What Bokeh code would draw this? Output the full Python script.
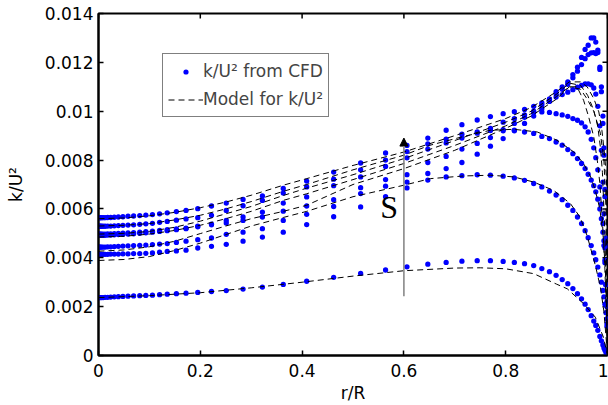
from bokeh.plotting import figure
from bokeh.models import (Range1d, FixedTicker, CustomJSTickFormatter,
                          Legend, LegendItem, Arrow, NormalHead, Label)
from bokeh.embed import file_html
from bokeh.resources import INLINE
import math

# ---------------- data ----------------
R = [0, 0.001, 0.002, 0.004, 0.006, 0.009, 0.013, 0.018, 0.024, 0.031,
     0.039, 0.048, 0.058, 0.069, 0.081, 0.093, 0.106, 0.120, 0.135, 0.153,
     0.172, 0.195, 0.222, 0.251, 0.284, 0.322, 0.363, 0.409, 0.462, 0.515,
     0.564, 0.606, 0.647, 0.683, 0.714, 0.744, 0.770, 0.795, 0.817, 0.837,
     0.855, 0.871, 0.886, 0.899, 0.911, 0.922, 0.932, 0.941, 0.949, 0.956,
     0.962, 0.968, 0.973, 0.977, 0.981, 0.985, 0.988, 0.991, 0.993, 0.995,
     0.997, 0.999, 1.0]

k_s1 = [.00237, .00237, .00237, .00237, .00237, .00237, .00238, .00238, .00239, .00240,
        .00241, .00242, .00243, .00244, .00245, .00246, .00247, .00249, .00251, .00253,
        .00255, .00258, .00262, .00266, .00272, .00280, .00291, .00304, .00320, .00336,
        .00350, .00363, .00374, .00381, .00386, .00388, .00388, .00385, .00381, .00376,
        .00368, .00356, .00343, .00328, .00311, .00294, .00274, .00253, .00232, .00210,
        .00188, .00163, .00141, .00123, .00103, .00078, .00060, .00043, .00031, .00021,
        .00012, .00004, 0]
k_s2 = [.00414, .00414, .00414, .00414, .00414, .00414, .00414, .00414, .00415, .00415,
        .00415, .00416, .00416, .00417, .00417, .00418, .00420, .00423, .00426, .00428,
        .00431, .00440, .00447, .00455, .00468, .00485, .00505, .00536, .00568, .00608,
        .00650, .00686, .00718, .00731, .00736, .00740, .00738, .00734, .00727, .00717,
        .00704, .00690, .00673, .00657, .00638, .00615, .00594, .00567, .00540, .00511,
        .00482, .00450, .00420, .00392, .00362, .00330, .00300, .00266, .00240, .00210,
        .00175, .00120, 0]
k_s3 = [.00529, .00529, .00529, .00529, .00529, .00529, .00529, .00530, .00530, .00531,
        .00532, .00533, .00534, .00535, .00537, .00539, .00541, .00545, .00549, .00554,
        .00559, .00564, .00574, .00594, .00613, .00635, .00665, .00690, .00722, .00760,
        .00800, .00835, .00866, .00886, .00906, .00915, .00921, .00925, .00922, .00915,
        .00909, .00897, .00888, .00874, .00861, .00843, .00826, .00806, .00786, .00765,
        .00742, .00718, .00695, .00670, .00640, .00600, .00560, .00505, .00450, .00380,
        .00290, .00150, 0]
k_s4 = [.00497, .00497, .00497, .00497, .00497, .00497, .00497, .00498, .00498, .00499,
        .00500, .00501, .00502, .00503, .00505, .00507, .00509, .00512, .00515, .00518,
        .00521, .00530, .00538, .00553, .00567, .00587, .00624, .00649, .00695, .00731,
        .00774, .00809, .00845, .00870, .00890, .00910, .00930, .00955, .00970, .00985,
        .00995, .00997, .00995, .00990, .00985, .00979, .00970, .00963, .00952, .00936,
        .00915, .00885, .00850, .00810, .00760, .00690, .00620, .00540, .00470, .00390,
        .00290, .00150, 0]
k_s5 = [.00564, .00564, .00564, .00564, .00564, .00564, .00564, .00565, .00565, .00566,
        .00567, .00568, .00570, .00571, .00573, .00575, .00577, .00580, .00584, .00589,
        .00594, .00601, .00612, .00624, .00639, .00653, .00684, .00714, .00751, .00788,
        .00829, .00860, .00890, .00922, .00945, .00964, .00978, .00990, .00998, .01007,
        .01020, .01034, .01046, .01058, .01068, .01078, .01088, .01098, .01106, .01112,
        .01112, .01108, .01095, .01070, .01020, .00940, .00840, .00710, .00580, .00440,
        .00290, .00130, 0]
k_s6 = [.00444, .00444, .00444, .00444, .00444, .00444, .00444, .00445, .00445, .00446,
        .00447, .00448, .00449, .00450, .00451, .00452, .00454, .00456, .00458, .00463,
        .00468, .00474, .00481, .00496, .00505, .00519, .00553, .00578, .00610, .00663,
        .00693, .00710, .00745, .00765, .00790, .00824, .00857, .00888, .00920, .00950,
        .00980, .01010, .01040, .01070, .01090, .01110, .01137, .01164, .01191, .01215,
        .01232, .01239, .01240, .01236, .01240, .01180, .01100, .00980, .00850, .00680,
        .00480, .00220, 0]
k_s7 = [.00492, .00492, .00492, .00492, .00492, .00492, .00492, .00493, .00493, .00494,
        .00495, .00496, .00497, .00498, .00500, .00502, .00505, .00508, .00511, .00515,
        .00519, .00527, .00535, .00542, .00553, .00567, .00591, .00612, .00638, .00687,
        .00720, .00740, .00790, .00815, .00845, .00868, .00892, .00920, .00950, .00975,
        .01000, .01025, .01050, .01080, .01100, .01120, .01150, .01180, .01220, .01253,
        .01270, .01300, .01300, .01283, .01250, .01171, .01080, .00950, .00820, .00650,
        .00450, .00200, 0]

# model curves
m1_r = [0, .1, .2, .3, .4, .5, .6, .7, .75, .8, .855, .9, .921, .953, .976, .992, 1.0]
m1_k = [.00237, .00245, .00257, .00277, .00300, .00325, .00347, .00358, .00359, .00355,
        .00335, .00292, .00273, .00212, .00157, .00075, 0]
m2_r = [0, .05, .1, .15, .2, .25, .3, .363, .409, .5, .6, .652, .718, .77, .816, .855,
        .894, .927, .946, .96, .976, .986, .993, 1.0]
m2_k = [.00389, .00393, .00405, .00430, .00460, .00495, .00530, .00565, .00590, .00650,
        .00697, .00724, .00735, .00738, .00731, .00710, .00676, .00622, .00567, .00490,
        .00370, .00280, .00180, 0]
m3_r = [0, .05, .1, .15, .2, .25, .3, .363, .409, .5, .6, .65, .718, .77, .816, .862,
        .901, .934, .953, .967, .976, .985, .992, .997, 1.0]
m3_k = [.00530, .00533, .00540, .00555, .00574, .00600, .00630, .00672, .00700, .00760,
        .00820, .00860, .00897, .00922, .00926, .00915, .00881, .00833, .00786, .00731,
        .00676, .00600, .00480, .00300, 0]
m4_r = [0, .05, .1, .15, .2, .25, .3, .363, .409, .5, .6, .7, .8, .85, .9, .925, .94,
        .953, .963, .973, .98, .985, .99, .995, 1.0]
m4_k = [.00485, .00488, .00497, .00512, .00533, .00560, .00590, .00635, .00662, .00720,
        .00786, .00860, .00940, .00990, .01060, .01100, .01100, .01045, .00977, .00895,
        .00799, .00704, .00550, .00350, 0]
m5_r = [0, .05, .1, .15, .2, .25, .3, .363, .409, .5, .6, .7, .8, .85, .9, .925, .947,
        .96, .973, .983, .989, .994, .998, 1.0]
m5_k = [.00560, .00563, .00572, .00586, .00605, .00628, .00656, .00697, .00724, .00778,
        .00833, .00900, .00970, .01015, .01080, .01120, .01120, .01100, .01052, .00997,
        .00922, .00827, .00730, 0]
m6_r = [0, .05, .1, .15, .2, .25, .3, .363, .409, .5, .6, .7, .8, .85, .9, .925, .947,
        .96, .973, .986, .993, .997, 1.0]
m6_k = [.00427, .00432, .00445, .00468, .00499, .00530, .00560, .00590, .00615, .00700,
        .00765, .00840, .00930, .00980, .01050, .01100, .01090, .01050, .01000, .00910,
        .00800, .00600, 0]
m7_r = [0, .05, .1, .15, .2, .25, .3, .363, .409, .5, .6, .7, .8, .85, .9, .925, .947,
        .961, .973, .981, .986, .99, .995, 1.0]
m7_k = [.00497, .00500, .00508, .00525, .00550, .00580, .00610, .00655, .00685, .00740,
        .00806, .00880, .00955, .01000, .01070, .01115, .01106, .01065, .01004, .00936,
        .00854, .00750, .00500, 0]

x_ticks = [0, 0.2, 0.4, 0.6, 0.8, 1.0]
y_ticks = [0, 0.002, 0.004, 0.006, 0.008, 0.01, 0.012, 0.014]

arrow_x, arrow_y0, arrow_y1 = 0.6, 0.00243, 0.0089
s_x, s_y = 0.571, 0.00608

cfd_curves = [k_s1, k_s2, k_s3, k_s4, k_s5, k_s6, k_s7]
for i, c in enumerate(cfd_curves):
    if len(c) != len(R):
        raise ValueError("curve %d has %d values" % (i, len(c)))
model_r = [m1_r, m2_r, m3_r, m4_r, m5_r, m6_r, m7_r]
model_k = [m1_k, m2_k, m3_k, m4_k, m5_k, m6_k, m7_k]
for i, (a, b) in enumerate(zip(model_r, model_k)):
    if len(a) != len(b):
        raise ValueError("model %d mismatch %d %d" % (i, len(a), len(b)))

# ---------------- figure ----------------
FONT = "DejaVu Sans"
p = figure(width=608, height=405, output_backend="svg", toolbar_location=None,
           x_range=Range1d(0, 1), y_range=Range1d(0, 0.014),
           min_border_left=98, min_border_right=1, min_border_top=13, min_border_bottom=50,
           x_axis_label="r/R", y_axis_label="k/U²")
p.xgrid.visible = False
p.ygrid.visible = False
p.outline_line_color = "black"
p.outline_line_width = 2
p.outline_line_alpha = 1
p.background_fill_color = "white"
p.border_fill_color = "white"

fmt = CustomJSTickFormatter(code="return tick == 0 ? '0' : parseFloat(tick.toFixed(4)).toString();")
for ax, ticks in ((p.xaxis[0], x_ticks), (p.yaxis[0], y_ticks)):
    ax.ticker = FixedTicker(ticks=ticks)
    ax.formatter = fmt
    ax.major_tick_in = 5
    ax.major_tick_out = 0
    ax.minor_tick_line_color = None
    ax.axis_line_width = 2
    ax.major_tick_line_width = 1.5
    ax.axis_line_color = "black"
    ax.major_label_text_font = FONT
    ax.major_label_text_font_size = "17px"
    ax.major_label_text_color = "black"
    ax.axis_label_text_font = FONT
    ax.axis_label_text_font_size = "17px"
    ax.axis_label_text_font_style = "normal"
    ax.axis_label_text_color = "black"
p.xaxis[0].major_label_standoff = 8
p.xaxis[0].axis_label_standoff = 3
p.yaxis[0].major_label_standoff = 5
p.yaxis[0].axis_label_standoff = 16

# tick marks on the top and right edges of the box (half of each dash is clipped by the frame)
p.scatter(x=[1.0] * len(y_ticks), y=y_ticks, marker="dash", size=10, angle=0,
          line_color="black", line_width=1.5)
p.scatter(x=x_ticks, y=[0.014] * len(x_ticks), marker="dash", size=10, angle=math.pi / 2,
          line_color="black", line_width=1.5)

xs, ys = [], []
for c in cfd_curves:
    xs.extend(R)
    ys.extend(c)
dots = p.scatter(x=xs, y=ys, size=5.3, marker="circle", fill_color="#0000ff",
                 line_color=None)
lines = p.multi_line(xs=model_r, ys=model_k, line_color="black", line_width=1,
                     line_dash="6 4")

p.add_layout(Arrow(end=NormalHead(size=8, fill_color="black", line_color="black"),
                   x_start=arrow_x, y_start=arrow_y0, x_end=arrow_x, y_end=arrow_y1,
                   line_color="#808080", line_width=1.5))
p.add_layout(Label(x=s_x, y=s_y, text="S", text_font="Liberation Serif",
                   text_font_size="32px", text_align="center", text_baseline="middle",
                   text_color="black"))

legend = Legend(items=[LegendItem(label="k/U² from CFD", renderers=[dots]),
                       LegendItem(label="Model for k/U²", renderers=[lines])],
                location=(64, 238), margin=0, padding=5, spacing=4,
                glyph_width=35, glyph_height=13, label_height=24, label_standoff=0,
                label_text_font=FONT, label_text_font_size="17px",
                border_line_color="black", border_line_width=1,
                background_fill_color="white", background_fill_alpha=1)
p.add_layout(legend)

open("out.html", "w").write(file_html(p, INLINE))
